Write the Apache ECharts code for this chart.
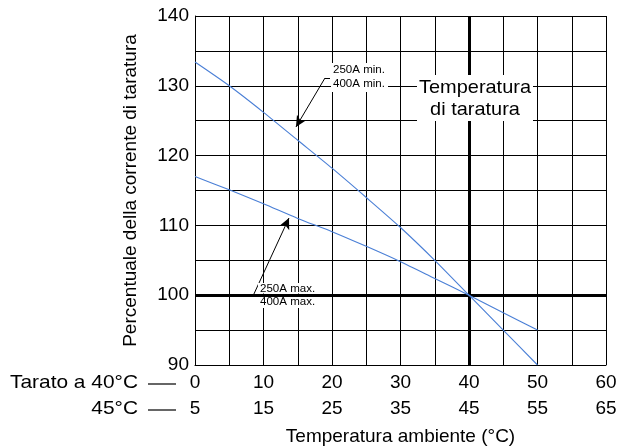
<!DOCTYPE html>
<html>
<head>
<meta charset="utf-8">
<script src="https://cdn.jsdelivr.net/npm/echarts@6/dist/echarts.min.js"></script>
<style>
  html, body { margin: 0; padding: 0; background: #fff; }
  #chart { width: 617px; height: 447px; }
</style>
</head>
<body>
<div id="chart"></div>
<script>
// ---- data ----
const tempX = [0, 5, 10, 15, 20, 25, 30, 35, 40, 45, 50];
const minCurve = [133.4, 130, 126.2, 122.2, 118.2, 114, 109.7, 105, 100, 95, 90];
const maxCurve = [117, 115.1, 113.1, 111, 109.1, 107, 104.8, 102.4, 100, 97.5, 95];
const xTicks40 = [0, 10, 20, 30, 40, 50, 60];
const xTicks45 = [5, 15, 25, 35, 45, 55, 65];
const yTicks = [90, 100, 110, 120, 130, 140];
const calibTemp = 40;
const calibPct = 100;
const minArrow = [[18.98, 131.12], [14.74, 124.1]];
const minArrowTick = [[18.98, 131.12], [19.71, 131.12]];
const maxArrow = [[8.47, 99.89], [13.72, 111.06]];
const maxArrowTick = [[8.47, 99.89], [9.2, 99.89]];

const FONT = "'Liberation Sans', Arial, Helvetica, sans-serif";
const chart = echarts.init(document.getElementById('chart'), null, { renderer: 'canvas' });

const option = {
  animation: false,
  backgroundColor: '#fff',
  grid: { left: 195, right: 11, top: 16, bottom: 82, containLabel: false, outerBoundsMode: 'none' },
  xAxis: {
    type: 'value', min: 0, max: 60, interval: 5,
    name: 'Temperatura ambiente (°C)', nameLocation: 'middle', nameGap: 62,
    nameTextStyle: { fontFamily: FONT, fontSize: 19, color: '#000' },
    axisLine: { show: true, lineStyle: { color: '#000', width: 1 } },
    axisTick: { show: false },
    splitLine: { show: true, lineStyle: { color: '#000', width: 1 } },
    axisLabel: {
      margin: 5,
      formatter: function (v) {
        const i = xTicks40.indexOf(v);
        if (i < 0) return '';
        return '{a|' + xTicks40[i] + '}\n{b|' + xTicks45[i] + '}';
      },
      rich: {
        a: { fontFamily: FONT, fontSize: 19, color: '#000', lineHeight: 26 },
        b: { fontFamily: FONT, fontSize: 19, color: '#000', lineHeight: 26 }
      }
    }
  },
  yAxis: {
    type: 'value', min: 90, max: 140, interval: 5,
    name: 'Percentuale della corrente di taratura', nameLocation: 'middle', nameGap: 55,
    nameTextStyle: { fontFamily: FONT, fontSize: 19, color: '#000' },
    axisLine: { show: true, lineStyle: { color: '#000', width: 1 } },
    axisTick: { show: false },
    splitLine: { show: true, lineStyle: { color: '#000', width: 1 } },
    axisLabel: {
      margin: 6, fontFamily: FONT, fontSize: 19, color: '#000',
      formatter: v => (yTicks.indexOf(v) >= 0 ? String(v) : '')
    }
  },
  series: [
    {
      type: 'line', name: 'min', showSymbol: false, symbol: 'none', z: 10, smooth: 0.25,
      lineStyle: { color: '#4a7fd6', width: 1.1 },
      data: tempX.map((x, i) => [x, minCurve[i]]),
      markLine: {
        silent: true, symbol: 'none', label: { show: false }, z: 3,
        lineStyle: { color: '#000', width: 3, type: 'solid' },
        data: [{ xAxis: calibTemp }, { yAxis: calibPct }]
      }
    },
    {
      type: 'line', name: 'max', showSymbol: false, symbol: 'none', z: 10, smooth: 0.25,
      lineStyle: { color: '#4a7fd6', width: 1.1 },
      data: tempX.map((x, i) => [x, maxCurve[i]]),
      markLine: {
        silent: true, label: { show: false }, z: 20,
        symbol: ['none', 'arrow'], symbolSize: [8, 11],
        lineStyle: { color: '#000', width: 1, type: 'solid' },
        data: [
          [{ coord: minArrow[0] }, { coord: minArrow[1] }],
          [{ coord: maxArrow[0] }, { coord: maxArrow[1] }],
          [{ coord: minArrowTick[0], symbol: 'none' }, { coord: minArrowTick[1], symbol: 'none' }],
          [{ coord: maxArrowTick[0], symbol: 'none' }, { coord: maxArrowTick[1], symbol: 'none' }]
        ]
      }
    }
  ]
};
chart.setOption(option);

// annotations (text boxes)
const g = [];
g.push({ type: 'rect', z: 100, shape: { x: 331, y: 63, width: 57, height: 29 }, style: { fill: '#fff' } });
g.push({ type: 'rect', z: 100, shape: { x: 417, y: 75, width: 116, height: 46 }, style: { fill: '#fff' } });
g.push({ type: 'rect', z: 100, shape: { x: 258, y: 283, width: 58, height: 10.5 }, style: { fill: '#fff' } });
g.push({ type: 'rect', z: 100, shape: { x: 258, y: 297, width: 58, height: 11 }, style: { fill: '#fff' } });
function txt(s, x, y, size, align, sx) {
  return { type: 'text', z: 101, x: x, y: y, scaleX: sx || 1,
    style: { text: s, fill: '#000', fontFamily: FONT, fontSize: size, align: align || 'left', verticalAlign: 'middle' } };
}
g.push(txt('250A min.', 333, 70, 11, 'left', 1.05));
g.push(txt('400A min.', 333, 84, 11, 'left', 1.05));
g.push(txt('Temperatura', 475, 88, 19, 'center', 1.05));
g.push(txt('di taratura', 475, 110, 19, 'center', 1.05));
g.push(txt('250A max.', 260, 289, 11, 'left', 1.05));
g.push(txt('400A max.', 260, 302, 11, 'left', 1.05));
g.push(txt('Tarato a 40°C', 138, 383, 19, 'right', 1.1));
g.push(txt('45°C', 138, 409, 19, 'right', 1.1));
g.push({ type: 'line', z: 101, shape: { x1: 148, y1: 384, x2: 176, y2: 384 }, style: { stroke: '#000', lineWidth: 1.2 } });
g.push({ type: 'line', z: 101, shape: { x1: 148, y1: 410, x2: 176, y2: 410 }, style: { stroke: '#000', lineWidth: 1.2 } });
chart.setOption({ graphic: g });
</script>
</body>
</html>
